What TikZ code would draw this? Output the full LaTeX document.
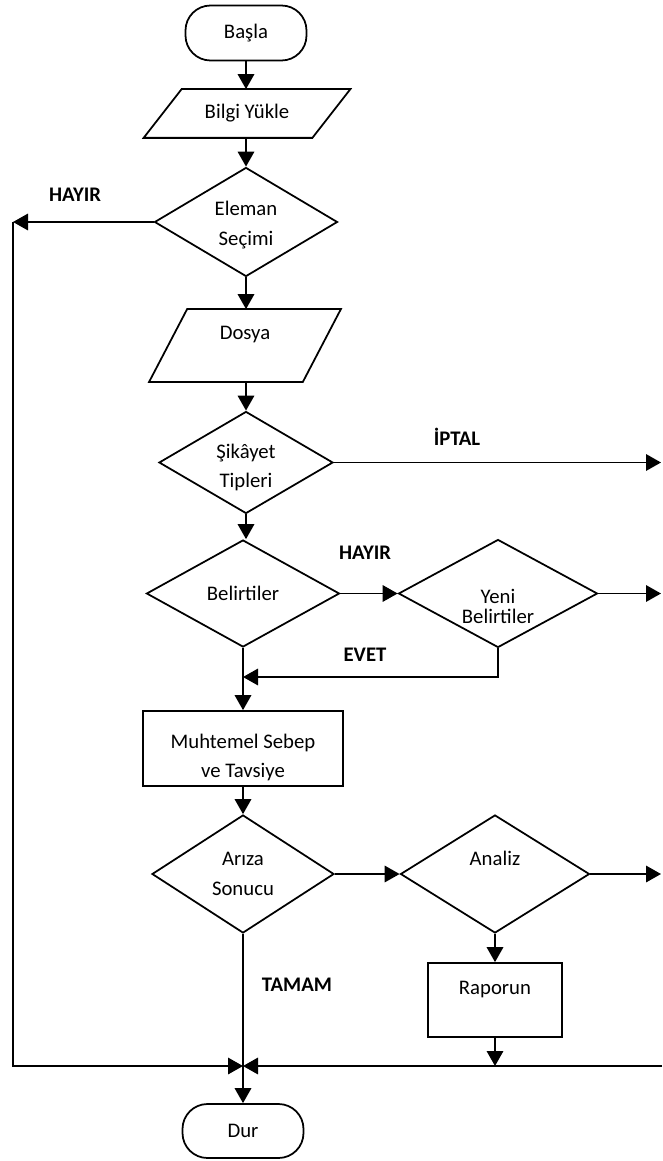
\documentclass[tikz,border=0pt]{standalone}
\usepackage{fontspec}
\setmainfont{Carlito}
\usetikzlibrary{shapes.geometric,arrows.meta}

\tikzset{
	basit/.style={font=\fontsize{11.8pt}{17pt}\selectfont},
	etiket/.style={font=\fontsize{11.8pt}{17pt}\selectfont\bfseries},
	uc/.style={draw, rounded corners=0.5cm, minimum width=2.42cm, minimum height=1.1cm},
	girdi/.style={rectangle, inner sep=0pt},
	karar/.style={draw, diamond, inner sep=0pt},
	kutu/.style={draw, rectangle, inner sep=0pt},
	yazi/.style={align=center}
}

\begin{document}
\begin{tikzpicture}[basit, line width=1pt, >={Triangle[length=0.3cm, width=0.33cm]}]
	\useasboundingbox (0, 0) rectangle (13.24, -23.22);

	\node[uc] (basla) at (4.92, -0.66) {Başla};
	\node[girdi, minimum width=3.34cm, minimum height=0.94cm] (bilgi) at (4.94, -2.27) {Bilgi Yükle};
	\node[karar, minimum width=3.66cm, minimum height=2.18cm, label={[yazi, yshift=-0.06cm]center:Eleman\\Seçimi}] (eleman) at (4.92, -4.44) {};
	\node[girdi, minimum width=3.04cm, minimum height=1.42cm, label={[yshift=0.21cm]center:Dosya}] (dosya) at (4.9, -6.91) {};
	\node[karar, minimum width=3.48cm, minimum height=2.04cm, label={[yazi, yshift=-0.1cm]center:Şikâyet\\Tipleri}] (sikayet) at (4.92, -9.25) {};
	\node[karar, minimum width=3.86cm, minimum height=2.14cm, label={center:Belirtiler}] (belirtiler) at (4.86, -11.87) {};
	\node[karar, minimum width=3.98cm, minimum height=2.16cm, label={[yazi, yshift=-0.26cm]center:Yeni\\[-5.5pt]Belirtiler}] (yeni) at (9.96, -11.87) {};
	\node[kutu, minimum width=4cm, minimum height=1.5cm, label={[yazi, yshift=-0.18cm]center:Muhtemel Sebep\\ve Tavsiye}] (muhtemel) at (4.86, -14.97) {};
	\node[karar, minimum width=3.64cm, minimum height=2.36cm, label={[yazi]center:Arıza\\Sonucu}] (ariza) at (4.86, -17.48) {};
	\node[karar, minimum width=3.78cm, minimum height=2.36cm, label={[yshift=0.32cm]center:Analiz}] (analiz) at (9.9, -17.48) {};
	\node[kutu, minimum width=2.68cm, minimum height=1.48cm, label={[yshift=0.2cm]center:Raporun}] (raporun) at (9.9, -20) {};
	\node[uc, minimum height=1.08cm] (dur) at (4.86, -22.62) {Dur};

	\draw[] ([xshift=0.38cm]bilgi.north west) -- ([xshift=0.38cm]bilgi.north east) -- ([xshift=-0.38cm]bilgi.south east) -- ([xshift=-0.38cm]bilgi.south west) -- cycle;
	\draw[] ([xshift=0.38cm]dosya.north west) -- ([xshift=0.38cm]dosya.north east) -- ([xshift=-0.38cm]dosya.south east) -- ([xshift=-0.38cm]dosya.south west) -- cycle;

	\coordinate (sol) at (0.26, -4.44);
	\coordinate (sagiptal) at (13.22, -9.25);
	\coordinate (sagyeni) at (13.22, -11.87);
	\coordinate (evet) at (4.86, -13.54);
	\coordinate (saganaliz) at (13.22, -17.48);
	\coordinate (birles) at (4.86, -21.32);
	\coordinate (sagalt) at (13.24, -21.32);

	\draw[->] (basla) -- (basla |- bilgi.north);
	\draw[->] (bilgi.south -| eleman) -- (eleman);
	\draw[->] (eleman) -- (eleman |- dosya.north);
	\draw[->] (dosya.south -| sikayet) -- (sikayet);
	\draw[->] (sikayet.south) -- (sikayet.south |- belirtiler.north);
	\draw[->] (belirtiler) -- (muhtemel);
	\draw[->] (muhtemel) -- (ariza);
	\draw[->] (ariza) -- (dur);
	\draw[->] (belirtiler) -- (yeni);
	\draw[->] (ariza) -- (analiz);
	\draw[->] (analiz) -- (raporun);
	\draw[->] (eleman) -- (sol);
	\draw[->] (sol) |- (birles);
	\draw[->] (sikayet) -- (sagiptal);
	\draw[->] (yeni) -- (sagyeni);
	\draw[->] (yeni.south) |- (evet);
	\draw[->] (analiz) -- (saganaliz);
	\draw[->] (sagalt) -- (birles);
	\draw[->] (raporun.south) -- (raporun.south |- birles);

	\node[etiket] (hayir1) at (1.5, -3.9) {HAYIR};
	\node[etiket] (iptal) at (9.14, -8.74) {İPTAL};
	\node[etiket] (hayir2) at (7.3, -11.06) {HAYIR};
	\node[etiket] (evetyazi) at (7.3, -13.1) {EVET};
	\node[etiket] (tamam) at (5.94, -19.7) {TAMAM};
\end{tikzpicture}
\end{document}
